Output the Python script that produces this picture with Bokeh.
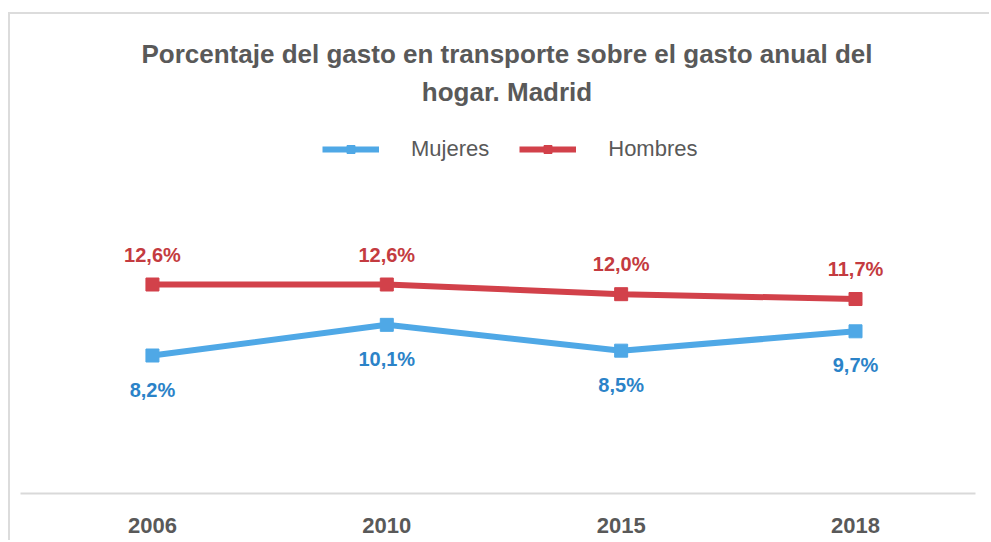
from bokeh.plotting import figure
from bokeh.models import (Range1d, FixedTicker, Label, LabelSet, ColumnDataSource,
                          Legend, LegendItem)
from bokeh.core.properties import value
from bokeh.embed import file_html
from bokeh.resources import INLINE

# ---- data ----
years = ["2006", "2010", "2015", "2018"]
mujeres = [8.2, 10.1, 8.5, 9.7]
hombres = [12.6, 12.6, 12.0, 11.7]
series_names = ["Mujeres", "Hombres"]
title_lines = ["Porcentaje del gasto en transporte sobre el gasto anual del",
               "hogar. Madrid"]

# ---- styles ----
FONT = "Liberation Sans"
GRAY = "#595959"
BLUE_LINE = "#4FA8E6"
BLUE_TEXT = "#2B83C8"
RED_LINE = "#D2414A"
RED_TEXT = "#C43B40"

xs = list(range(len(years)))


def fmt(v):
    return f"{v:.1f}%".replace(".", ",")


src_m = ColumnDataSource(dict(x=xs, y=mujeres, t=[fmt(v) for v in mujeres]))
src_h = ColumnDataSource(dict(x=xs, y=hombres, t=[fmt(v) for v in hombres]))

p = figure(width=981, height=528, output_backend="svg", toolbar_location=None,
           x_range=Range1d(-0.563, 3.512), y_range=Range1d(-0.35, 29.33),
           y_axis_location=None,
           min_border_left=10, min_border_right=16, min_border_top=0,
           min_border_bottom=49)
p.outline_line_color = None
p.grid.visible = False
p.background_fill_color = "white"
p.border_fill_color = "white"
# chart border: visible on the left and top only
p.styles = {"margin-left": "8px", "margin-top": "12px",
            "border-left": "2px solid #DCDCDC",
            "border-top": "2px solid #DCDCDC"}

# x axis
ax = p.xaxis[0]
ax.ticker = FixedTicker(ticks=xs)
ax.major_label_overrides = {i: y for i, y in enumerate(years)}
ax.axis_line_color = "#D9D9D9"
ax.axis_line_width = 2
ax.major_tick_line_color = None
ax.minor_tick_line_color = None
ax.major_label_standoff = 18
ax.major_label_text_font = FONT
ax.major_label_text_font_size = "22px"
ax.major_label_text_font_style = "bold"
ax.major_label_text_color = GRAY

# series
lm = p.line("x", "y", source=src_m, line_width=6, line_color=BLUE_LINE)
sm = p.scatter("x", "y", source=src_m, marker="square", size=13,
               fill_color=BLUE_LINE, line_color=BLUE_LINE)
lh = p.line("x", "y", source=src_h, line_width=6, line_color=RED_LINE)
sh = p.scatter("x", "y", source=src_h, marker="square", size=13,
               fill_color=RED_LINE, line_color=RED_LINE)

# data labels
p.add_layout(LabelSet(x="x", y="y", text="t", source=src_h, y_offset=23,
                      text_align="center", text_baseline="alphabetic",
                      text_font=value(FONT), text_font_size=value("20px"),
                      text_font_style="bold", text_color=RED_TEXT))
p.add_layout(LabelSet(x="x", y="y", text="t", source=src_m, y_offset=-34,
                      text_align="center", text_baseline="middle",
                      text_font=value(FONT), text_font_size=value("20px"),
                      text_font_style="bold", text_color=BLUE_TEXT))

# title
for txt, yy in zip(title_lines, [440, 402]):
    p.add_layout(Label(x=486.5, y=yy, x_units="screen", y_units="screen",
                       text=txt, text_align="center",
                       text_baseline="alphabetic", text_font=FONT,
                       text_font_size="26px", text_font_style="bold",
                       text_color=GRAY))

# legend
legend = Legend(items=[LegendItem(label=series_names[0], renderers=[lm, sm]),
                       LegendItem(label=series_names[1], renderers=[lh, sh])],
                location=(302, 331), orientation="horizontal",
                glyph_width=57, glyph_height=20, label_standoff=32,
                spacing=30, padding=0, margin=0,
                border_line_color=None, background_fill_alpha=0,
                label_text_font=FONT, label_text_font_size="22px",
                label_text_color=GRAY)
p.add_layout(legend)

open("out.html", "w").write(file_html(p, INLINE))
